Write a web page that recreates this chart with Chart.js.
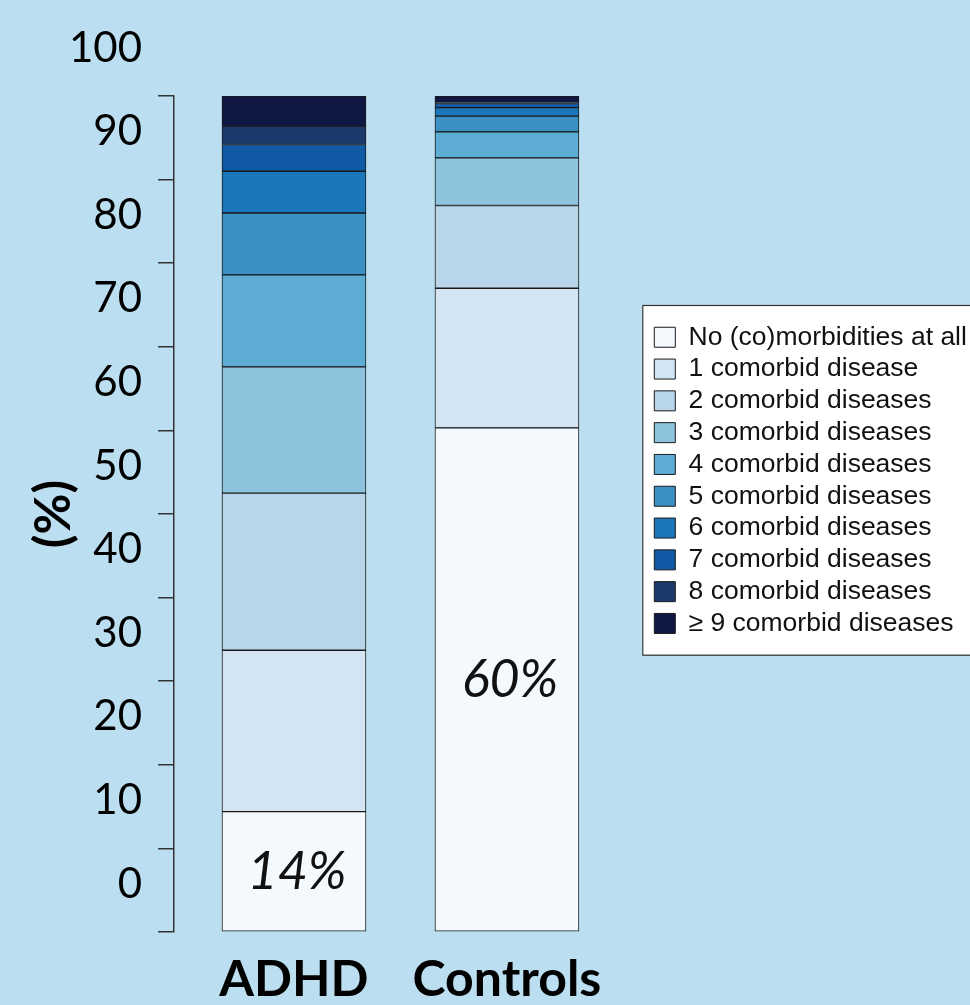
<!DOCTYPE html>
<html>
<head>
<meta charset="utf-8">
<title>Comorbidities ADHD vs Controls</title>
<script src="https://cdn.jsdelivr.net/npm/chart.js@4.4.1/dist/chart.umd.min.js"></script>
<style>
  html, body { margin: 0; padding: 0; background: #bbdff0; overflow: hidden; }
  /* a bit taller than the window, the bottom gets cut off like in the poster */
  #wrap { position: relative; width: 970px; height: 1030px; }
</style>
</head>
<body>
<div id="wrap"><canvas id="comorbChart"></canvas></div>
<script>
const groups = ['ADHD', 'Controls'];
const levels = [
  'No (co)morbidities at all',
  '1 comorbid disease',
  '2 comorbid diseases',
  '3 comorbid diseases',
  '4 comorbid diseases',
  '5 comorbid diseases',
  '6 comorbid diseases',
  '7 comorbid diseases',
  '8 comorbid diseases',
  '\u2265 9 comorbid diseases'
];
// % of each group, bottom of the stack first
const adhd = [14.4, 19.3, 18.8, 15.1, 11.0, 7.4, 5.0, 3.2, 2.2, 3.6];
const controls = [60.3, 16.7, 9.9, 5.7, 3.1, 1.9, 1.0, 0.5, 0.2, 0.7];
const yTicks = [0, 10, 20, 30, 40, 50, 60, 70, 80, 90, 100];

const colors = ['#f4f9fe', '#d3e5f3', '#b8d5ea', '#8dc3dc', '#5dacd3',
                '#3d90c3', '#1a77ba', '#115aa5', '#1b3a6b', '#0f1842'];

const datasets = levels.map((name, i) => ({
  label: name,
  data: [{ x: 1, y: adhd[i] }, { x: 2, y: controls[i] }],
  backgroundColor: colors[i],
  borderColor: '#1a1a1a',
  borderWidth: 1,
  borderSkipped: false,
  barThickness: 144
}));

// white box with a frame behind the legend
const legendFrame = {
  id: 'legendFrame',
  beforeDraw(chart) {
    const boxes = chart.legend && chart.legend.legendHitBoxes;
    if (!boxes || !boxes.length) return;
    const first = boxes[0];
    const last = boxes[boxes.length - 1];
    const x0 = first.left - 12;
    const y0 = first.top - 19;
    const y1 = last.top + last.height + 18;
    const ctx = chart.ctx;
    ctx.save();
    ctx.fillStyle = '#ffffff';
    ctx.fillRect(x0, y0, chart.width - x0 + 10, y1 - y0);
    ctx.strokeStyle = '#333';
    ctx.lineWidth = 1.2;
    ctx.strokeRect(x0 + 0.5, y0 + 0.5, chart.width - x0 + 10, y1 - y0);
    ctx.restore();
  }
};

// italic percentage inside the "no comorbidity" segment
const noneLabels = {
  id: 'noneLabels',
  afterDatasetsDraw(chart) {
    const ctx = chart.ctx;
    const meta = chart.getDatasetMeta(0);
    const yScale = chart.scales.y;
    const firstVals = [adhd[0], controls[0]];
    ctx.save();
    ctx.font = 'italic 52px Lato';
    ctx.fillStyle = '#111';
    ctx.textAlign = 'center';
    ctx.textBaseline = 'middle';
    meta.data.forEach((bar, i) => {
      const v = firstVals[i];
      ctx.fillText(Math.round(v) + '%', bar.x + 3, yScale.getPixelForValue(v / 2));
    });
    ctx.restore();
  }
};

const ctx = document.getElementById('comorbChart').getContext('2d');
new Chart(ctx, {
  type: 'bar',
  data: { datasets },
  plugins: [legendFrame, noneLabels],
  options: {
    responsive: true,
    maintainAspectRatio: false,
    animation: false,
    layout: { padding: { top: 96, left: 0, right: 0, bottom: 2 } },
    plugins: {
      tooltip: { enabled: false },
      legend: {
        position: 'right',
        align: 'start',
        maxWidth: 321,
        title: { display: true, text: '', padding: { top: 208.3, bottom: 0 }, font: { size: 12 } },
        labels: {
          boxWidth: 21,
          boxHeight: 20,
          padding: 5.3,
          color: '#111',
          font: { family: "'Liberation Sans', Arial, sans-serif", size: 26.5 }
        }
      }
    },
    scales: {
      x: {
        type: 'linear',
        stacked: true,
        offset: false,
        min: 0.437,
        max: 2.667,
        grid: { display: false, drawTicks: false, tickLength: 0 },
        border: { display: false },
        afterBuildTicks: axis => { axis.ticks = groups.map((g, i) => ({ value: i + 1 })); },
        ticks: {
          padding: 32,
          color: '#000',
          font: { family: 'Lato', size: 50, weight: 'bold', lineHeight: 0.64 },
          callback: value => groups[value - 1]
        }
      },
      y: {
        stacked: true,
        min: 0,
        max: 100,
        afterBuildTicks: axis => { axis.ticks = yTicks.map(v => ({ value: v })); },
        grid: { drawOnChartArea: false, tickLength: 16, color: '#333', lineWidth: 1.5 },
        border: { display: true, color: '#333', width: 1.5 },
        ticks: {
          padding: 16,
          labelOffset: -48,
          autoSkip: false,
          color: '#000',
          font: { family: 'Lato', size: 42 }
        },
        title: {
          display: true,
          text: '(%)',
          color: '#000',
          padding: { top: 29, bottom: -26 },
          font: { family: 'Lato', size: 50, weight: 'bold', lineHeight: 1.0 }
        }
      }
    }
  }
});
</script>
</body>
</html>
